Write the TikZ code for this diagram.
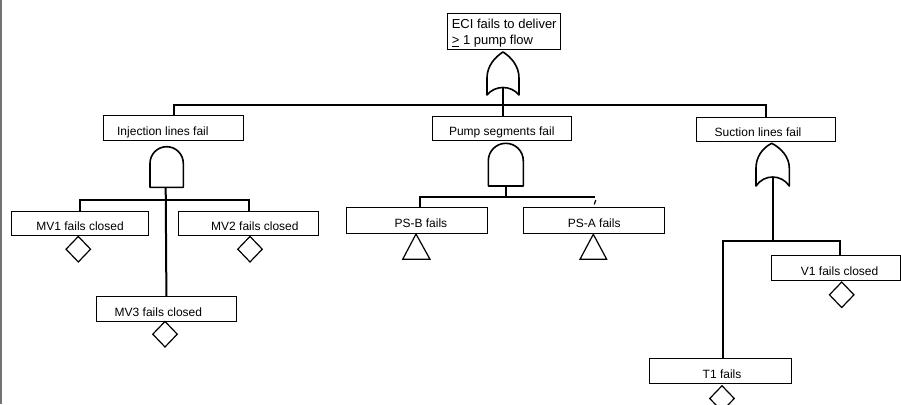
\documentclass[tikz,border=0pt]{standalone}
\usepackage{fontspec}
\setmainfont{Liberation Sans}
\usetikzlibrary{shapes.geometric}
\newcommand\tsh[1]{\hspace*{#1}}
\begin{document}
\begin{tikzpicture}[x=1pt,y=-1pt,
  evbox/.style={draw=black, line width=1.1pt, anchor=north west, inner xsep=0pt, inner ysep=0pt},
  one/.style={text height=14.5pt, text depth=0pt, font=\fontsize{12}{14}\selectfont},
  conn/.style={line width=2pt, draw=black},
  gate/.style={draw=black, line width=1.6pt, line join=round},
  basic/.style={draw=black, diamond, line width=1.2pt, minimum width=25pt, minimum height=26pt, inner sep=0pt},
  undev/.style={draw=black, line width=1.2pt, line join=miter},
  frame/.style={draw=black!55, line width=1.5pt}
]
\useasboundingbox (0,0) rectangle (901,404);
\draw[frame] (1,0) -- (1,404);

% event boxes
\node[evbox, minimum width=112.7pt, minimum height=36.3pt, align=left, text depth=0pt, font=\fontsize{13}{16}\selectfont] (top) at (447.3,13) {ECI fails to deliver\\\underline{>} 1 pump flow};
\node[evbox, one, minimum width=140pt, minimum height=25pt] (inj) at (103.3,115) {\tsh{-22pt}Injection lines fail};
\node[evbox, one, minimum width=139pt, minimum height=24.3pt] (pump) at (431.7,115.7) {Pump segments fail};
\node[evbox, one, minimum width=139pt, minimum height=24pt] (suct) at (696,116.7) {\tsh{-16pt}Suction lines fail};
\node[evbox, one, minimum width=137.6pt, minimum height=24.3pt] (mv1) at (10.7,210.7) {MV1 fails closed};
\node[evbox, one, minimum width=140pt, minimum height=24.3pt] (mv2) at (178.3,210.7) {\tsh{12pt}MV2 fails closed};
\node[evbox, one, minimum width=140.3pt, minimum height=24.7pt] (mv3) at (95.7,296) {\tsh{-16pt}MV3 fails closed};
\node[evbox, one, minimum width=140.7pt, minimum height=25.4pt] (psb) at (346,207.3) {\tsh{8pt}PS-B fails};
\node[evbox, one, minimum width=140.7pt, minimum height=25.4pt] (psa) at (523.3,207.3) {PS-A fails};
\node[evbox, one, minimum width=128.8pt, minimum height=25pt] (v1) at (770.7,255) {\tsh{8pt}V1 fails closed};
\node[evbox, one, minimum width=141.4pt, minimum height=24.4pt] (t1) at (649.3,358.3) {\tsh{3pt}T1 fails};

% gates
\draw[gate] (487,95) .. controls (495,85) and (511,85) .. (519,95) -- (519,78)
  .. controls (519,66) and (511,57) .. (503,52) .. controls (495,57) and (487,66) .. (487,78) -- cycle;
\coordinate (or1) at (503,87.5);
\draw[gate] (756,186) .. controls (764,174) and (781.3,174) .. (789.3,186) -- (789.3,168)
  .. controls (789.3,157) and (781,148) .. (771.7,143.3) .. controls (762.4,148) and (756,157) .. (756,168) -- cycle;
\coordinate (or2) at (772.5,177);
\draw[gate] (150,187.3) -- (150,163.35) arc[start angle=180, end angle=0, radius=16.65pt] -- (183.3,187.3) -- cycle;
\coordinate (and1) at (165.7,187.3);
\draw[gate] (488.3,186) -- (488.3,160.8) arc[start angle=180, end angle=0, radius=17.5pt] -- (523.3,186) -- cycle;
\coordinate (and2) at (505.8,186);

% bus coordinates
\coordinate (b1) at (503,105);
\coordinate (b2) at (165.7,200);
\coordinate (b3L) at (420,197.3);
\coordinate (b3R) at (595,197.3);
\coordinate (b4L) at (722.7,240.7);
\coordinate (b4R) at (840,240.7);
\coordinate (tkA) at (595.7,200);
\coordinate (tkB) at (594.3,204.5);

% connectors
\draw[conn] (or1) -- (pump.north -| or1);
\draw[conn] (inj.north) |- (b1) -| (suct.north);
\draw[conn] (and1) -- (mv3.north);
\draw[conn] (mv1.north) |- (b2) -| (mv2.north);
\draw[conn] (and2) -- (and2 |- b3L);
\draw[conn] (psb.north -| b3L) |- (b3R);
\draw[line width=1.2pt] (tkA) -- (tkB);
\draw[conn] (or2) -- (or2 |- b4L);
\draw[conn] (t1.north -| b4L) |- (b4R) -- (v1.north -| b4R);

% basic events
\node[basic] (d1) at (78.3,249.2) {};
\node[basic] (d2) at (250,249.2) {};
\node[basic] (d3) at (165,334.2) {};
\node[basic] (d4) at (841.7,294.8) {};
\node[basic] (d5) at (722,398.5) {};

% transfer triangles
\draw[undev] (416,234) -- (430,259.3) -- (402.7,259.3) -- cycle;
\draw[undev] (593.3,234.3) -- (606.7,259.3) -- (580,259.3) -- cycle;
\end{tikzpicture}
\end{document}
